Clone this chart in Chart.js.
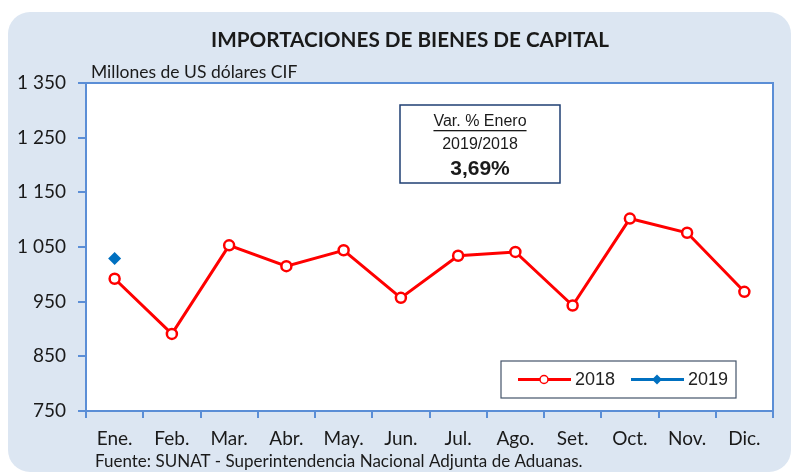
<!DOCTYPE html>
<html>
<head>
<meta charset="utf-8">
<script src="https://cdn.jsdelivr.net/npm/chart.js@4/dist/chart.umd.min.js"></script>
<style>
  html, body { margin: 0; padding: 0; background: #ffffff; }
  #wrap { width: 797px; height: 473px; }
</style>
</head>
<body>
<div id="wrap"><canvas id="c" width="797" height="473"></canvas></div>
<script>
// Monthly capital-goods imports, millions of US$ CIF
const months = ['Ene.', 'Feb.', 'Mar.', 'Abr.', 'May.', 'Jun.', 'Jul.', 'Ago.', 'Set.', 'Oct.', 'Nov.', 'Dic.'];
const imports2018 = [992, 891, 1053, 1015, 1044, 957, 1034, 1041, 943, 1102, 1076, 968];
const imports2019 = [1029, null, null, null, null, null, null, null, null, null, null, null];
const yTicks = [750, 850, 950, 1050, 1150, 1250, 1350];
const titleText = 'IMPORTACIONES DE BIENES DE CAPITAL';
const unitText = 'Millones de US dólares CIF';
const sourceText = 'Fuente: SUNAT - Superintendencia Nacional Adjunta de Aduanas.';
const noteLines = ['Var. % Enero', '2019/2018', '3,69%'];

const AXIS_BLUE = '#5b8ed6';
const PANEL = '#dce6f2';
const TEXT = '#1a1a1a';

const decor = {
  id: 'decor',
  beforeDraw(chart) {
    const ctx = chart.ctx;
    const a = chart.chartArea;
    ctx.save();
    ctx.fillStyle = PANEL;
    ctx.beginPath();
    ctx.roundRect(8, 12, 783, 460, 22);
    ctx.fill();
    ctx.fillStyle = '#ffffff';
    ctx.fillRect(a.left, a.top, a.right - a.left, a.bottom - a.top);
    // title
    ctx.fillStyle = TEXT;
    ctx.font = 'bold 20.7px Lato';
    ctx.textAlign = 'center';
    ctx.textBaseline = 'middle';
    ctx.fillText(titleText, 410, 40);
    // unit caption
    ctx.font = '17.5px Lato';
    ctx.textAlign = 'left';
    ctx.fillText(unitText, 91, 72);
    // source
    ctx.font = '17px Lato';
    ctx.fillText(sourceText, 95, 462);
    ctx.restore();
  },
  afterDatasetsDraw(chart) {
    const ctx = chart.ctx;
    const a = chart.chartArea;
    ctx.save();
    ctx.strokeStyle = AXIS_BLUE;
    ctx.lineWidth = 2;
    ctx.strokeRect(a.left, a.top, a.right - a.left, a.bottom - a.top);

    // variation note box
    const bx = 400, by = 105, bw = 160, bh = 78, cx = bx + bw / 2;
    ctx.fillStyle = '#ffffff';
    ctx.fillRect(bx, by, bw, bh);
    ctx.strokeStyle = '#1f3f73';
    ctx.lineWidth = 1.5;
    ctx.strokeRect(bx, by, bw, bh);
    ctx.fillStyle = TEXT;
    ctx.textAlign = 'center';
    ctx.textBaseline = 'middle';
    ctx.font = '16px "Liberation Sans"';
    ctx.fillText(noteLines[0], cx, 122);
    const w = ctx.measureText(noteLines[0]).width;
    ctx.fillRect(cx - w / 2, 130, w, 1.3);
    ctx.fillText(noteLines[1], cx, 145);
    ctx.font = 'bold 21px "Liberation Sans"';
    ctx.fillText(noteLines[2], cx, 169);

    // legend
    const lx = 501, ly = 361, lw = 235, lh = 37;
    ctx.fillStyle = '#ffffff';
    ctx.fillRect(lx, ly, lw, lh);
    ctx.strokeStyle = '#44546a';
    ctx.lineWidth = 1.2;
    ctx.strokeRect(lx, ly, lw, lh);
    const cy = ly + lh / 2;
    chart.data.datasets.forEach((ds, i) => {
      const x0 = i === 0 ? 518 : 631;
      ctx.strokeStyle = ds.borderColor;
      ctx.lineWidth = 3;
      ctx.beginPath();
      ctx.moveTo(x0, cy);
      ctx.lineTo(x0 + 53, cy);
      ctx.stroke();
      const mx = x0 + 26;
      if (ds.pointStyle === 'rectRot') {
        ctx.fillStyle = ds.pointBackgroundColor;
        ctx.beginPath();
        ctx.moveTo(mx, cy - 5); ctx.lineTo(mx + 5, cy); ctx.lineTo(mx, cy + 5); ctx.lineTo(mx - 5, cy);
        ctx.closePath();
        ctx.fill();
      } else {
        ctx.fillStyle = '#ffffff';
        ctx.lineWidth = 1.5;
        ctx.beginPath();
        ctx.arc(mx, cy, 4, 0, Math.PI * 2);
        ctx.fill();
        ctx.stroke();
      }
      ctx.fillStyle = '#222222';
      ctx.font = '18px "Liberation Sans"';
      ctx.textAlign = 'left';
      ctx.fillText(ds.label, x0 + 57, cy + 1);
    });
    ctx.restore();
  }
};

new Chart(document.getElementById('c'), {
  type: 'line',
  data: {
    labels: months,
    datasets: [
      {
        label: '2018',
        data: imports2018,
        borderColor: '#ff0000',
        borderWidth: 3,
        pointStyle: 'circle',
        pointRadius: 5,
        pointBorderWidth: 2.5,
        pointBackgroundColor: '#ffffff',
        pointBorderColor: '#ff0000',
        tension: 0
      },
      {
        label: '2019',
        data: imports2019,
        borderColor: '#0070c0',
        borderWidth: 3,
        pointStyle: 'rectRot',
        pointRadius: 6.5,
        pointBorderWidth: 0,
        pointBackgroundColor: '#0070c0',
        pointBorderColor: '#0070c0',
        showLine: false
      }
    ]
  },
  options: {
    responsive: false,
    animation: false,
    layout: { padding: { left: 0, top: 83, right: 24, bottom: 0 } },
    plugins: { legend: { display: false }, title: { display: false }, tooltip: { enabled: false } },
    scales: {
      x: {
        offset: true,
        afterFit(s) { s.height = 62; },
        grid: { offset: true, drawOnChartArea: false, drawTicks: true, tickLength: 7, color: AXIS_BLUE, lineWidth: 2 },
        border: { display: false },
        ticks: { padding: 9, color: TEXT, font: { family: 'Lato', size: 19 }, maxRotation: 0, autoSkip: false }
      },
      y: {
        min: 750,
        max: 1350,
        afterFit(s) { s.width = 86; },
        afterBuildTicks(s) { s.ticks = yTicks.map(v => ({ value: v })); },
        grid: { drawOnChartArea: false, drawTicks: true, tickLength: 8, color: AXIS_BLUE, lineWidth: 2 },
        border: { display: false },
        ticks: {
          padding: 12,
          color: TEXT,
          font: { family: 'Lato', size: 19 },
          callback: v => String(v).replace(/\B(?=(\d{3})+(?!\d))/g, ' ')
        }
      }
    }
  },
  plugins: [decor]
});
</script>
</body>
</html>
